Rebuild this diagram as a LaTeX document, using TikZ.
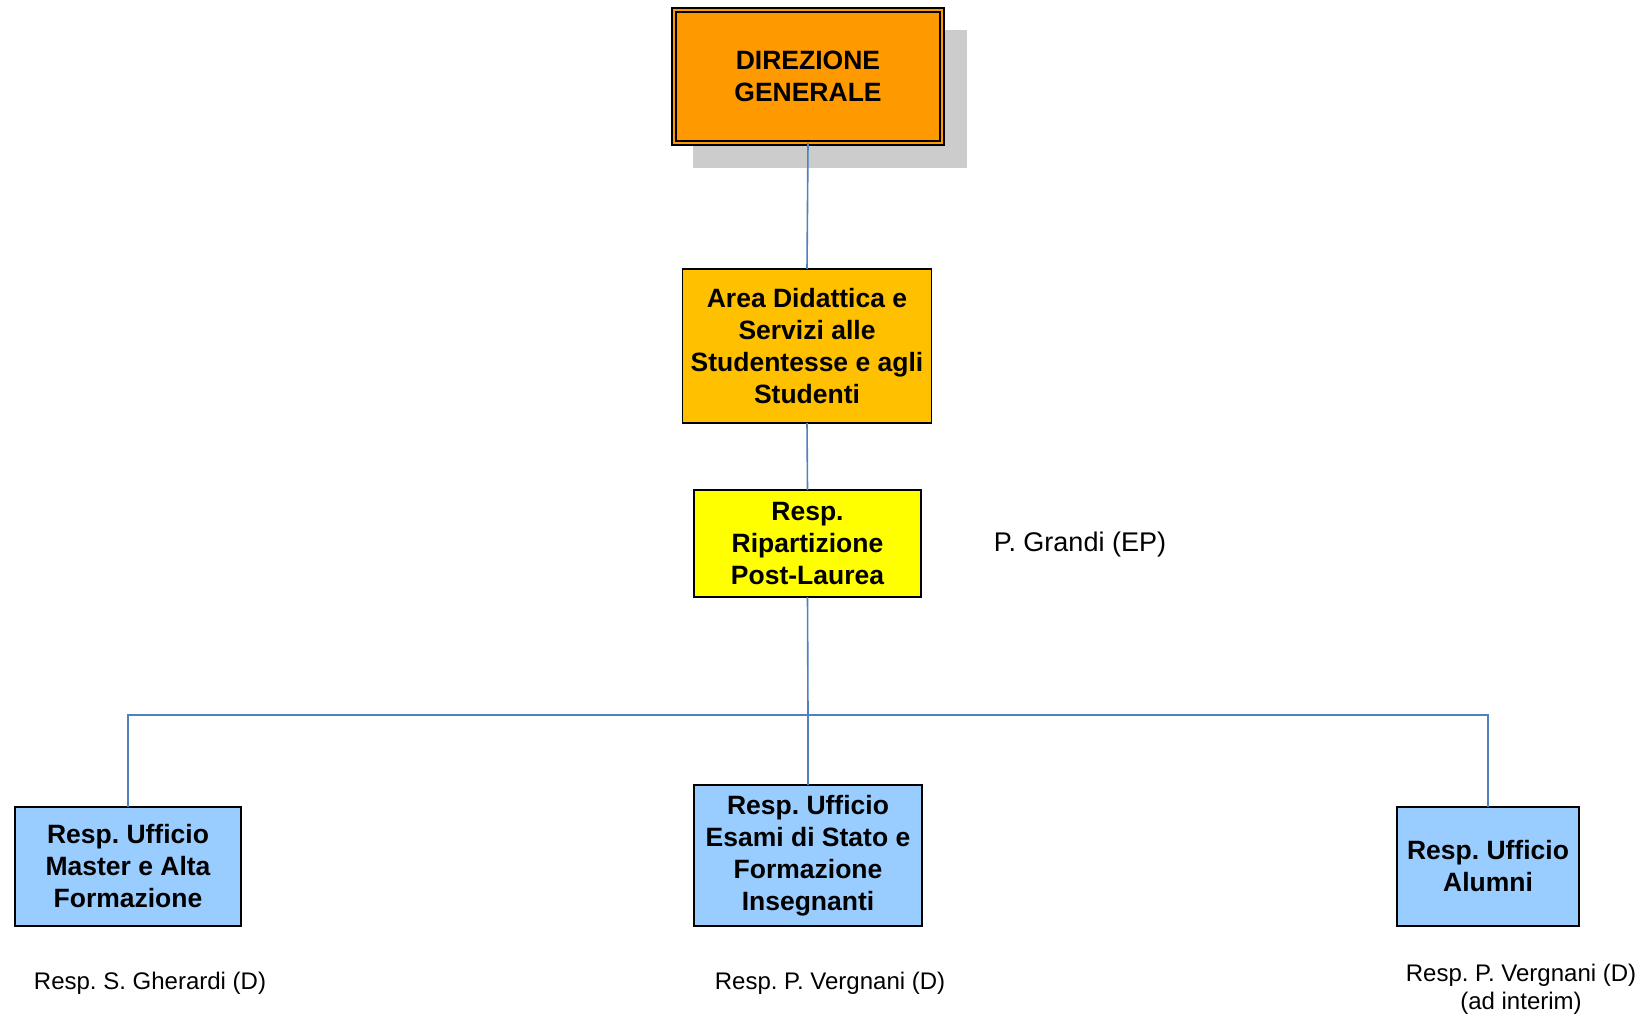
\documentclass[tikz,border=0pt]{standalone}
\usepackage{fontspec}
\setmainfont{Liberation Sans}
\frenchspacing
\definecolor{conn}{RGB}{79,129,189}
\definecolor{orangeA}{RGB}{255,153,0}
\definecolor{goldA}{RGB}{255,192,0}
\definecolor{yellowA}{RGB}{255,255,0}
\definecolor{blueA}{RGB}{153,204,255}
\definecolor{shadowA}{RGB}{204,204,204}
\begin{document}
\begin{tikzpicture}[x=1pt,y=-1pt,
  box/.style={draw=black, line width=1.5pt, rectangle, align=center, inner sep=0pt, outer sep=0pt,
    font=\fontsize{26.5}{32}\selectfont\bfseries\frenchspacing},
  plain/.style={align=center, inner sep=0pt, font=\fontsize{24}{28.5}\selectfont\frenchspacing},
  link/.style={draw=conn, line width=1.6pt}]
\useasboundingbox (0,0) rectangle (1649,1022);
\fill[shadowA] (693,30) rectangle (967,168);
\node[box, fill=orangeA, double=orangeA, line width=1.4pt, double distance=2.6pt,
  minimum width=268pt, minimum height=133pt] (top) at (808,76.5) {DIREZIONE\\GENERALE};
\node[box, fill=goldA, minimum width=249pt, minimum height=154pt] (area) at (807,346)
  {Area Didattica e\\Servizi alle\\Studentesse e agli\\Studenti};
\node[box, fill=yellowA, minimum width=227pt, minimum height=107pt] (rip) at (807.5,543.5)
  {Resp.\\Ripartizione\\Post-Laurea};
\node[box, fill=blueA, minimum width=226pt, minimum height=119pt] (master) at (128,866.5)
  {Resp. Ufficio\\Master e Alta\\Formazione};
\node[box, fill=blueA, minimum width=228pt, minimum height=141pt] (esami) at (808,855.5)
  {Resp. Ufficio\\Esami di Stato e\\Formazione\\Insegnanti};
\node[box, fill=blueA, minimum width=182pt, minimum height=119pt] (alumni) at (1488,866.5)
  {Resp. Ufficio\\Alumni};
\coordinate (bus) at (808,715);
\draw[link] (top.south) -- (area.north);
\draw[link] (area.south) -- (rip.north);
\draw[link] (rip.south) -- (bus) -- (esami.north);
\draw[link] (master.north) -- (master.north |- bus) -- (alumni.north |- bus) -- (alumni.north);
\node[plain, font=\fontsize{27}{30}\selectfont] (grandi) at (1080,545) {P. Grandi (EP)};
\node[plain] (gherardi) at (150,983) {Resp. S. Gherardi (D)};
\node[plain] (vergnani) at (830,983) {Resp. P. Vergnani (D)};
\node[plain] (vergnani2) at (1521,989.5) {Resp. P. Vergnani (D)\\(ad interim)};
\end{tikzpicture}
\end{document}
